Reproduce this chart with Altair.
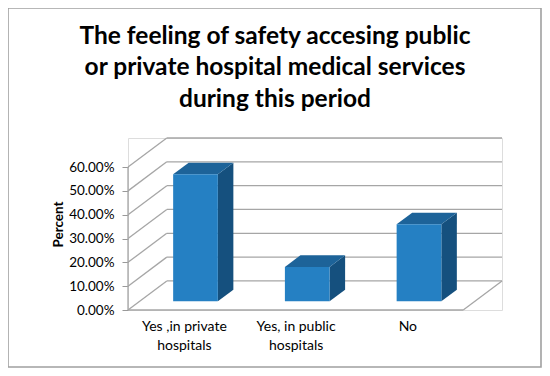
import altair as alt
import pandas as pd

# ---- data ----
categories = ["Yes ,in private|hospitals", "Yes, in public|hospitals", "No"]
values = [0.533, 0.144, 0.323]
tick_values = [0.0, 0.1, 0.2, 0.3, 0.4, 0.5, 0.6]
title_lines = ["The feeling of safety accesing public",
               "or private hospital medical services",
               "during this period"]

# ---- 3D geometry (in data units) ----
DX, DY = 0.347, 0.122          # full depth of the box (x units, y fraction)
Z0 = 0.3                        # depth of bar front face
BZ = 0.4                        # depth of bar
BW = 0.40                       # bar width (x units)
YMAX = 0.6 + DY

front, top, side = [], [], []
for i, (c, v) in enumerate(zip(categories, values)):
    x0 = i + 0.5 - BW / 2 + Z0 * DX
    x1 = x0 + BW
    yb = Z0 * DY
    Y = v + yb
    dx, dy = BZ * DX, BZ * DY
    front.append(dict(bar=i, x=x0, x2=x1, y=yb, y2=Y))
    top += [dict(bar=i, x=x0, y=Y, y2=Y), dict(bar=i, x=x0 + dx, y=Y, y2=Y + dy),
            dict(bar=i, x=x1, y=Y, y2=Y + dy), dict(bar=i, x=x1 + dx, y=Y + dy, y2=Y + dy)]
    side += [dict(bar=i, x=x1, y=yb, y2=Y), dict(bar=i, x=x1 + dx, y=yb + dy, y2=Y + dy)]

lines = []
for t in tick_values:
    lines.append(dict(x=DX, x2=3 + DX, y=t + DY, y2=t + DY))   # back wall
    lines.append(dict(x=0, x2=DX, y=t, y2=t + DY))             # side wall diagonals
lines.append(dict(x=0, x2=3, y=0, y2=0))                       # floor front
lines.append(dict(x=3, x2=3 + DX, y=0, y2=DY))                 # floor right
lines.append(dict(x=0, x2=0, y=0, y2=0.6))                     # front vertical axis

xs = alt.Scale(domain=[0, 3 + DX], nice=False, zero=False)
ys = alt.Scale(domain=[0, YMAX], nice=False)

label_expr = ("split(datum.value < 1 ? '" + categories[0] + "' : datum.value < 2 ? '"
              + categories[1] + "' : '" + categories[2] + "', '|')")

axis_x = alt.Axis(values=[0.5, 1.5, 2.5], labelExpr=label_expr, title=None,
                  domain=False, ticks=False, grid=False, labelPadding=9,
                  labelFontSize=14, labelFont="Lato", labelColor="#000",
                  labelLineHeight=19, labelBaseline="top")
axis_y = alt.Axis(values=tick_values, format=".2%", title="Percent",
                  domain=False, ticks=True, tickSize=6, tickColor="#999",
                  grid=False, labelFontSize=13.5, labelFont="Lato",
                  labelColor="#000", labelPadding=8, labelOverlap=False,
                  titleFont="Lato", titleFontSize=13.5, titleFontWeight="bold",
                  titleColor="#000", titlePadding=3)

X = alt.X("x:Q", scale=xs, axis=axis_x)
Yq = alt.Y("y:Q", scale=ys, axis=axis_y)

grid = alt.Chart(pd.DataFrame(lines)).mark_rule(color="#A6A6A6", strokeWidth=1.3).encode(
    x=X, x2="x2:Q", y=Yq, y2="y2:Q")

front_m = alt.Chart(pd.DataFrame(front)).mark_rect(color="#2580C3").encode(
    x=X, x2="x2:Q", y=Yq, y2="y2:Q")

top_m = alt.Chart(pd.DataFrame(top)).mark_area(color="#1D6399", opacity=1).encode(
    x=X, y=Yq, y2="y2:Q", detail="bar:N")

side_m = alt.Chart(pd.DataFrame(side)).mark_area(color="#15507E", opacity=1).encode(
    x=X, y=Yq, y2="y2:Q", detail="bar:N")

frame = alt.Chart(pd.DataFrame({"a": [0]})).mark_rect(
    fill=None, stroke="#A0A0A0", strokeWidth=1.6).encode(
    x=alt.value(-120), x2=alt.value(413), y=alt.value(-130), y2=alt.value(229))

chart = alt.layer(frame, grid, side_m, top_m, front_m).properties(
    width=374, height=172,
    title=alt.TitleParams(title_lines, font="Lato", fontSize=24.5, fontWeight="bold",
                          color="#000", anchor="middle", frame="group", dx=-40,
                          dy=105, lineHeight=31.5, offset=0),
    padding={"left": 120, "top": 130, "right": 40, "bottom": 60},
    autosize=alt.AutoSizeParams(type="none"),
).configure_view(stroke=None).configure(background="white")

chart.save("out.html", embed_options={"renderer": "svg", "actions": False})
